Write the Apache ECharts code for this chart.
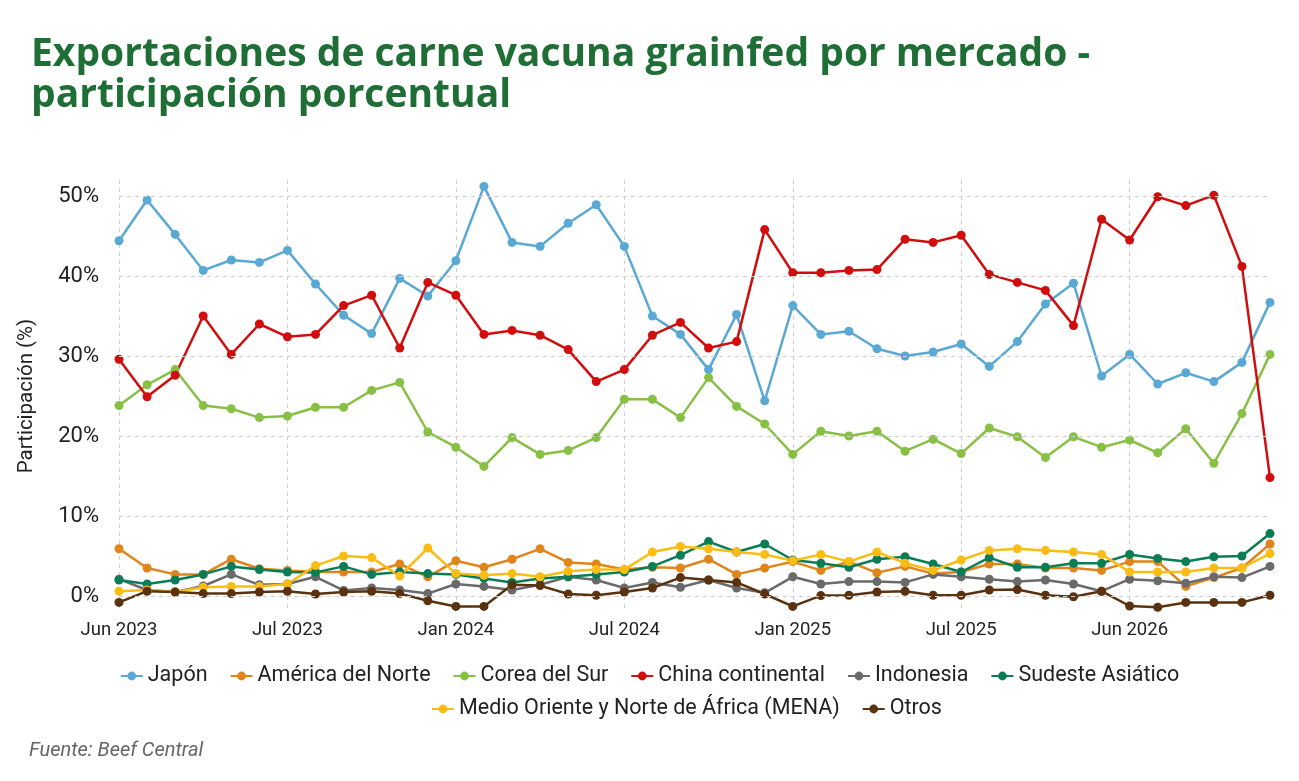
<!DOCTYPE html>
<html>
<head>
<meta charset="utf-8">
<script src="https://cdn.jsdelivr.net/npm/echarts@6/dist/echarts.min.js"></script>
<style>
  html, body { margin: 0; padding: 0; background: #fff; }
  #chart { width: 1299px; height: 781px; }
</style>
</head>
<body>
<div id="chart"></div>
<script>
// meses (uno por punto) y las etiquetas que se ven cada 6 puntos
const categories = ['Jun 2023','Jul 2023','Aug 2023','Sep 2023','Oct 2023','Nov 2023','Dec 2023',
  'Jan 2024','Feb 2024','Mar 2024','Apr 2024','May 2024','Jun 2024','Jul 2024','Aug 2024','Sep 2024',
  'Oct 2024','Nov 2024','Dec 2024','Jan 2025','Feb 2025','Mar 2025','Apr 2025','May 2025','Jun 2025',
  'Jul 2025','Aug 2025','Sep 2025','Oct 2025','Nov 2025','Dec 2025','Jan 2026','Feb 2026','Mar 2026',
  'Apr 2026','May 2026','Jun 2026','Jul 2026','Aug 2026','Sep 2026','Oct 2026','Nov 2026'];
const tickLabels = ['Jun 2023','Jul 2023','Jan 2024','Jul 2024','Jan 2025','Jul 2025','Jun 2026'];
const yTicks = [0, 10, 20, 30, 40, 50];

const japon = [44.4,49.5,45.2,40.7,42.0,41.7,43.2,39.0,35.1,32.8,39.7,37.5,41.9,51.2,44.2,43.7,46.6,48.9,43.7,35.0,
  32.7,28.3,35.2,24.4,36.3,32.7,33.1,30.9,30.0,30.5,31.5,28.7,31.8,36.5,39.1,27.5,30.2,26.5,27.9,26.8,29.2,36.7];
const americaNorte = [5.9,3.5,2.7,2.7,4.6,3.4,3.2,3.0,3.0,3.0,4.0,2.4,4.4,3.6,4.6,5.9,4.2,4.0,3.3,3.6,
  3.5,4.6,2.7,3.5,4.3,3.2,4.3,2.9,3.7,2.8,3.0,4.0,4.0,3.5,3.5,3.2,4.3,4.3,1.2,2.3,3.5,6.5];
const corea = [23.8,26.4,28.3,23.8,23.4,22.3,22.5,23.6,23.6,25.7,26.7,20.5,18.6,16.2,19.8,17.7,18.2,19.8,24.6,24.6,
  22.3,27.3,23.7,21.5,17.7,20.6,20.0,20.6,18.1,19.6,17.8,21.0,19.9,17.3,19.9,18.6,19.5,17.9,20.9,16.6,22.8,30.2];
const china = [29.6,24.9,27.6,35.0,30.2,34.0,32.4,32.7,36.3,37.6,31.0,39.2,37.6,32.7,33.2,32.6,30.8,26.8,28.3,32.6,
  34.2,31.0,31.8,45.8,40.4,40.4,40.7,40.8,44.6,44.2,45.1,40.2,39.2,38.2,33.8,47.1,44.5,49.9,48.8,50.1,41.2,14.8];
const indonesia = [2.1,0.75,0.5,1.25,2.7,1.4,1.5,2.4,0.7,1.0,0.75,0.3,1.5,1.2,0.75,1.4,2.4,2.0,1.0,1.7,
  1.1,2.0,1.0,0.4,2.4,1.5,1.8,1.8,1.7,2.7,2.4,2.1,1.8,2.0,1.5,0.6,2.1,1.9,1.6,2.4,2.3,3.7];
const sudeste = [2.0,1.5,2.0,2.7,3.7,3.3,3.0,2.95,3.7,2.7,3.0,2.8,2.7,2.2,1.7,2.2,2.4,2.7,3.0,3.7,
  5.1,6.8,5.5,6.5,4.5,4.1,3.6,4.6,4.9,4.0,3.0,4.8,3.6,3.6,4.1,4.1,5.2,4.7,4.3,4.9,5.0,7.8];
const mena = [0.6,0.75,0.5,1.1,1.2,1.2,1.5,3.8,5.0,4.8,2.5,6.0,2.8,2.6,2.8,2.4,3.1,3.3,3.3,5.5,
  6.2,5.9,5.5,5.2,4.4,5.2,4.3,5.5,4.1,3.2,4.5,5.7,5.9,5.7,5.5,5.2,3.0,3.0,3.0,3.5,3.5,5.3];
const otros = [-0.8,0.6,0.5,0.3,0.3,0.5,0.6,0.25,0.5,0.6,0.3,-0.6,-1.3,-1.3,1.4,1.3,0.25,0.1,0.5,1.0,
  2.3,2.0,1.7,0.25,-1.3,0.05,0.1,0.5,0.6,0.1,0.1,0.75,0.8,0.1,-0.1,0.6,-1.25,-1.4,-0.8,-0.8,-0.8,0.1];

const seriesDefs = [
  ['Japón', japon, '#5aa9d4'],
  ['América del Norte', americaNorte, '#e0851b'],
  ['Corea del Sur', corea, '#88c046'],
  ['China continental', china, '#d10d0d'],
  ['Indonesia', indonesia, '#6a6a6a'],
  ['Sudeste Asiático', sudeste, '#0b7d56'],
  ['Medio Oriente y Norte de África (MENA)', mena, '#fbbd14'],
  ['Otros', otros, '#5a3210']
];

const font = 'Roboto, "Liberation Sans", sans-serif';
const chart = echarts.init(document.getElementById('chart'));

const series = seriesDefs.map(function (d) {
  return {
    name: d[0], type: 'line', data: d[1],
    symbol: 'circle', symbolSize: 9,
    itemStyle: { color: d[2] },
    lineStyle: { color: d[2], width: 2.5 },
    emphasis: { disabled: true }
  };
});
// lineas horizontales de la grilla solo en 0,10,...,50
series.push({
  type: 'line', data: [], silent: true, z: 0,
  markLine: {
    silent: true, symbol: 'none', label: { show: false },
    lineStyle: { color: '#cfcfcf', type: [4, 4], width: 1 },
    data: yTicks.map(function (v) { return { yAxis: v }; })
  }
});

const legendBase = {
  itemWidth: 22, itemHeight: 11, itemGap: 22,
  textStyle: { fontFamily: font, fontSize: 21.5, color: '#222' }
};

chart.setOption({
  backgroundColor: '#fff',
  animation: false,
  title: [{
    text: 'Exportaciones de carne vacuna grainfed por mercado -\nparticipación porcentual',
    left: 26, top: 29,
    textStyle: { fontFamily: '"Open Sans", Lato, sans-serif', fontWeight: 'bold', fontSize: 39, lineHeight: 41, color: '#1f6e35' }
  }, {
    text: 'Fuente: Beef Central',
    left: 24, top: 736,
    textStyle: { fontFamily: font, fontStyle: 'italic', fontWeight: 'normal', fontSize: 20, color: '#666' }
  }],
  legend: [
    Object.assign({}, legendBase, { left: 'center', top: 660, data: seriesDefs.slice(0, 6).map(function (d) { return d[0]; }) }),
    Object.assign({}, legendBase, { left: 426, top: 693, data: seriesDefs.slice(6).map(function (d) { return d[0]; }) })
  ],
  grid: { left: 119, right: 29, top: 180, bottom: 169, containLabel: false },
  xAxis: {
    type: 'category', data: categories, boundaryGap: false,
    axisLine: { show: false },
    axisTick: { show: false },
    axisLabel: {
      interval: 5, margin: 9, fontFamily: font, fontSize: 18.5, color: '#222',
      formatter: function (v, i) { return tickLabels[i / 6] || ''; }
    },
    splitLine: { show: true, interval: 5, lineStyle: { color: '#cfcfcf', type: [4, 4], width: 1 } }
  },
  yAxis: {
    type: 'value', min: -2, max: 52,
    name: 'Participación (%)', nameLocation: 'middle', nameGap: 82,
    nameTextStyle: { fontFamily: font, fontSize: 20.5, color: '#222' },
    axisLine: { show: false }, axisTick: { show: false },
    splitLine: { show: false },
    axisLabel: {
      margin: 20, fontFamily: font, fontSize: 22, color: '#222',
      showMinLabel: false, showMaxLabel: false,
      formatter: function (v) { return (Math.abs(v % 10) < 1e-6) ? v + '%' : ''; }
    }
  },
  series: series
});
</script>
</body>
</html>
